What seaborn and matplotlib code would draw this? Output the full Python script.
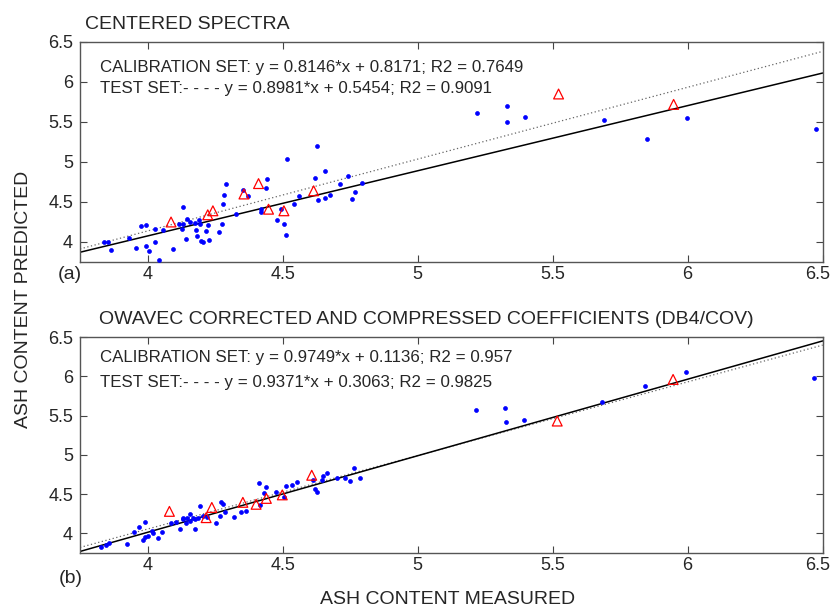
import numpy as np
import pandas as pd
import seaborn as sns
import matplotlib.pyplot as plt
from matplotlib.transforms import ScaledTranslation

# (a) centered spectra -- calibration set (blue dots)
cal_a_x = [4.291, 4.283, 4.28, 4.353, 4.131, 3.974, 3.995, 4.028, 4.057, 3.93, 3.837, 3.853,
           3.863, 3.956, 3.993, 4.007, 4.026, 4.044, 4.094, 4.141, 4.128, 4.116, 4.133, 4.146,
           4.159, 4.174, 4.19, 4.193, 4.18, 4.183, 4.199, 4.207, 4.226, 4.215, 4.223, 4.263,
           4.276, 4.328, 4.372, 4.443, 4.438, 4.421, 4.421, 4.517, 4.479, 4.507, 4.513, 4.541,
           4.56, 4.493, 4.626, 4.619, 4.656, 4.633, 4.656, 4.674, 4.711, 4.742, 4.769, 4.756,
           4.795, 5.22, 5.332, 5.331, 5.399, 5.69, 5.848, 5.999, 6.476]
cal_a_y = [4.72, 4.59, 4.47, 4.65, 4.44, 4.20, 4.21, 4.16, 4.15, 4.05, 4.00, 4.00,
           3.90, 3.92, 3.95, 3.89, 4.00, 3.77, 3.91, 4.04, 4.16, 4.225, 4.22, 4.29,
           4.25, 4.24, 4.275, 4.225, 4.15, 4.08, 4.01, 4.00, 4.02, 4.14, 4.21, 4.12,
           4.225, 4.35, 4.58, 4.79, 4.67, 4.41, 4.37, 5.04, 4.275, 4.225, 4.09, 4.48,
           4.58, 4.41, 5.20, 4.80, 4.89, 4.525, 4.555, 4.59, 4.72, 4.83, 4.62, 4.54,
           4.74, 5.61, 5.70, 5.50, 5.56, 5.52, 5.29, 5.55, 5.41]
# (a) test set (red triangles)
test_a_x = [4.087, 4.223, 4.242, 4.357, 4.411, 4.448, 4.505, 4.615, 5.522, 5.948]
test_a_y = [4.25, 4.34, 4.39, 4.60, 4.73, 4.41, 4.39, 4.64, 5.85, 5.72]

# (b) OWAVEC -- calibration set
cal_b_x = [3.829, 3.847, 3.859, 3.923, 3.985, 3.991, 4.04, 3.949, 3.97, 3.989, 4.001, 4.017,
           4.022, 4.054, 4.088, 4.106, 4.121, 4.13, 4.141, 4.158, 4.146, 4.176, 4.133, 4.156,
           4.168, 4.177, 4.186, 4.193, 4.207, 4.22, 4.254, 4.269, 4.273, 4.281, 4.288, 4.32,
           4.347, 4.365, 4.411, 4.437, 4.431, 4.417, 4.474, 4.511, 4.507, 4.534, 4.553, 4.612,
           4.619, 4.627, 4.647, 4.649, 4.665, 4.702, 4.733, 4.748, 4.764, 4.788,
           5.215, 5.325, 5.326, 5.393, 5.684, 5.843, 5.993, 6.467]
cal_b_y = [3.825, 3.855, 3.88, 3.87, 3.92, 3.95, 3.94, 4.02, 4.08, 4.14, 3.97, 4.03,
           4.00, 4.02, 4.13, 4.14, 4.06, 4.18, 4.13, 4.16, 4.20, 4.06, 4.20, 4.25,
           4.20, 4.18, 4.20, 4.35, 4.225, 4.21, 4.13, 4.225, 4.40, 4.38, 4.27, 4.205,
           4.27, 4.29, 4.64, 4.59, 4.52, 4.36, 4.53, 4.60, 4.46, 4.61, 4.66, 4.68,
           4.56, 4.53, 4.68, 4.73, 4.77, 4.70, 4.71, 4.67, 4.83, 4.71,
           5.57, 5.60, 5.42, 5.44, 5.67, 5.88, 6.05, 5.98]
# (b) test set
test_b_x = [4.081, 4.217, 4.238, 4.353, 4.402, 4.44, 4.499, 4.608, 5.517, 5.946]
test_b_y = [4.28, 4.20, 4.33, 4.395, 4.37, 4.445, 4.49, 4.74, 5.43, 5.96]

# regression lines (slope, intercept, R2) as printed on the chart
fit_a = {"cal": (0.8146, 0.8171, 0.7649), "test": (0.8981, 0.5454, 0.9091)}
fit_b = {"cal": (0.9749, 0.1136, 0.957), "test": (0.9371, 0.3063, 0.9825)}

titles = ["CENTERED SPECTRA",
          "OWAVEC CORRECTED AND COMPRESSED COEFFICIENTS (DB4/COV)"]
ticks = [4, 4.5, 5, 5.5, 6, 6.5]
tick_labels = ["4", "4.5", "5", "5.5", "6", "6.5"]

sns.set_style("ticks")
plt.rcParams["font.family"] = ["Liberation Sans", "DejaVu Sans"]

fig = plt.figure(figsize=(8.31, 6.13), dpi=100)
ax_a = fig.add_axes([0.0963, 0.5726, 0.8937, 0.3589])
ax_b = fig.add_axes([0.0963, 0.0979, 0.8937, 0.3523])

# title x (axes frac), text line y's, tag y (axes frac)
panels = [(ax_a, cal_a_x, cal_a_y, test_a_x, test_a_y, fit_a, "(a)", 0.007, (0.886, 0.79), -0.018),
          (ax_b, cal_b_x, cal_b_y, test_b_x, test_b_y, fit_b, "(b)", 0.025, (0.903, 0.79), -0.08)]

for i, (ax, cx, cy, tx, ty, fit, tag, tx0, ly, tagy) in enumerate(panels):
    xs = np.array([3.75, 6.5])
    lines = pd.DataFrame({
        "x": np.concatenate([xs, xs]),
        "y": np.concatenate([fit["cal"][0] * xs + fit["cal"][1],
                             fit["test"][0] * xs + fit["test"][1]]),
        "set": ["cal", "cal", "test", "test"],
    })
    sns.lineplot(data=lines[lines["set"] == "test"], x="x", y="y", ax=ax,
                 color="#666666", lw=0.9, linestyle=(0, (1, 2)))
    sns.lineplot(data=lines[lines["set"] == "cal"], x="x", y="y", ax=ax,
                 color="black", lw=1.1)
    sns.scatterplot(x=cx, y=cy, ax=ax, color="blue", marker="o", s=8,
                    edgecolor="blue", linewidth=0.5, zorder=3)
    sns.scatterplot(x=tx, y=ty, ax=ax, marker="^", s=50, facecolors="none",
                    edgecolor="red", linewidth=0.9, zorder=4)

    ax.set_xlim(3.75, 6.5)
    ax.set_ylim(3.75, 6.5)
    ax.set_xticks(ticks)
    ax.set_xticklabels(tick_labels)
    ax.set_yticks(ticks)
    ax.set_yticklabels(tick_labels)
    ax.set_xlabel("")
    ax.set_ylabel("")
    ax.tick_params(direction="in", length=5, width=0.8, top=True, right=True,
                   labelsize=13, color="#444444")
    ax.tick_params(axis="x", pad=3)
    ax.tick_params(axis="y", pad=5)
    # last x label sits at the right edge of the figure, nudge it inside
    last = ax.get_xticklabels()[-1]
    last.set_transform(last.get_transform() + ScaledTranslation(-5 / 100, 0, fig.dpi_scale_trans))
    for sp in ax.spines.values():
        sp.set_visible(True)
        sp.set_color("#555555")
        sp.set_linewidth(1.0)

    c, t = fit["cal"], fit["test"]
    ax.text(0.027, ly[0], "CALIBRATION SET: y = %.4f*x + %.4f; R2 = %g" % c,
            transform=ax.transAxes, fontsize=12.2, va="center")
    ax.text(0.027, ly[1], "TEST SET:- - - - y = %.4f*x + %.4f; R2 = %g" % t,
            transform=ax.transAxes, fontsize=12.2, va="center")
    ax.text(tx0, 1.04, titles[i], transform=ax.transAxes, fontsize=14,
            ha="left", va="bottom")
    ax.text(0.003, tagy, tag, transform=ax.transAxes, fontsize=14,
            ha="right", va="top")

fig.text(0.028, 0.512, "ASH CONTENT PREDICTED", rotation=90, fontsize=14,
         ha="center", va="center")
fig.text(0.538, 0.022, "ASH CONTENT MEASURED", fontsize=14, ha="center", va="center")

fig.savefig("out.png", dpi=100)
